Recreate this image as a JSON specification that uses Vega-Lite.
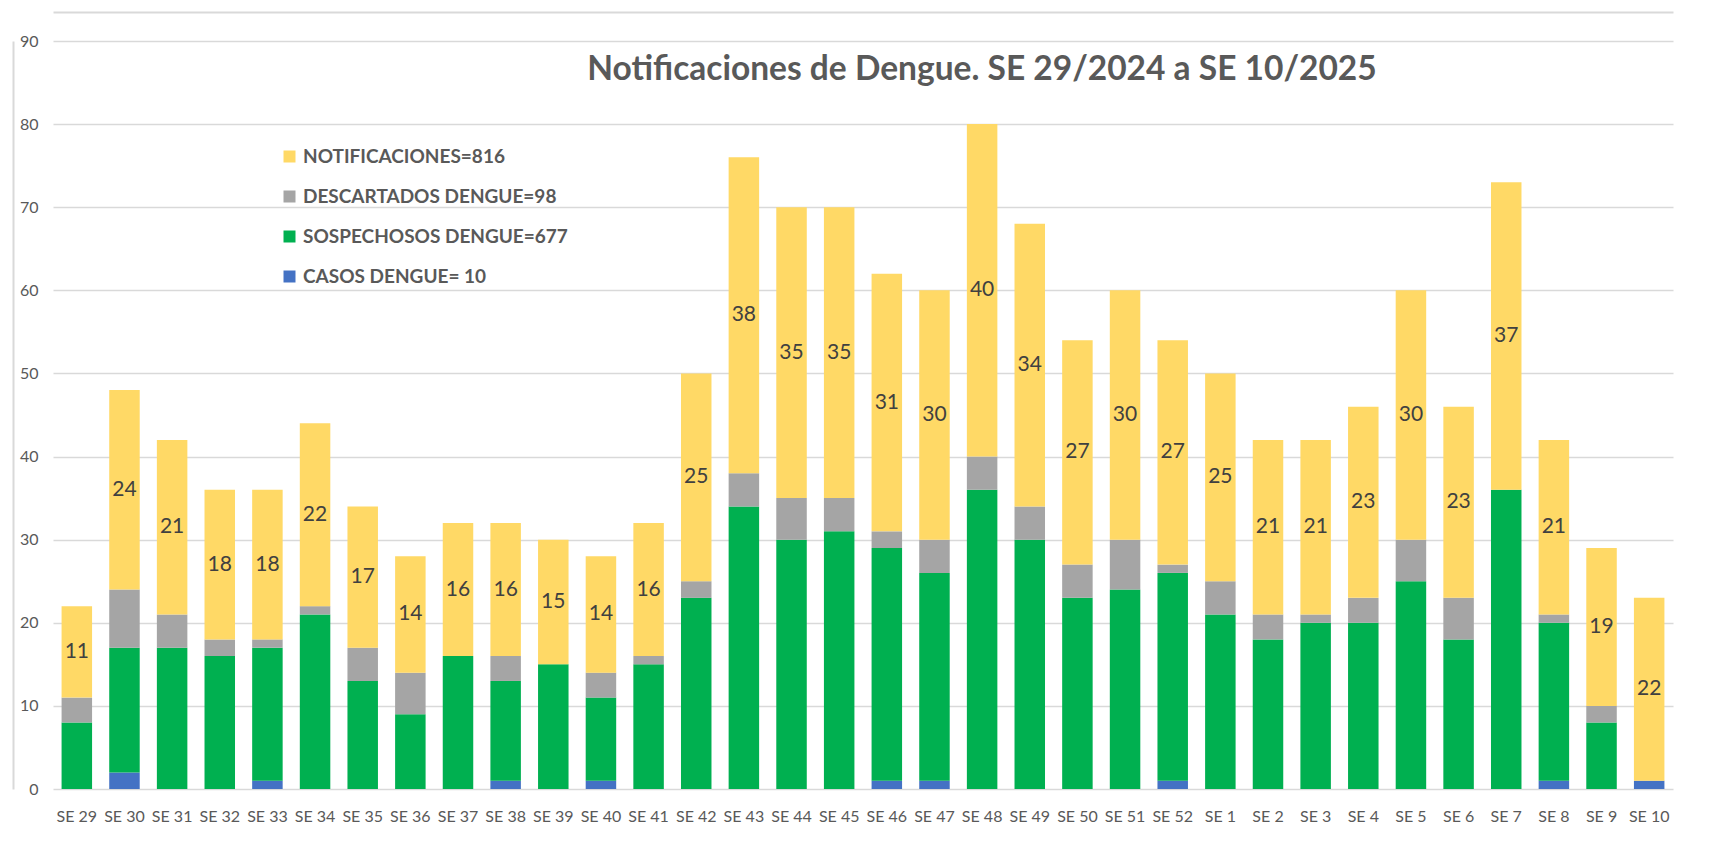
{
  "$schema": "https://vega.github.io/schema/vega-lite/v6.json",
  "width": 1620,
  "height": 748,
  "autosize": {"type": "none"},
  "padding": {"left": 53, "top": 41, "right": 56, "bottom": 63},
  "background": "white",
  "title": {
    "text": "Notificaciones de Dengue. SE 29/2024 a SE 10/2025",
    "frame": "group",
    "anchor": "middle",
    "dx": 119,
    "offset": -101,
    "baseline": "alphabetic",
    "font": "Lato",
    "fontSize": 33.5,
    "fontWeight": "bold",
    "color": "#595959"
  },
  "datasets": {
    "semanas": [
      {"se": "SE 29", "casos": 0, "sospechosos": 8, "descartados": 3, "notificaciones": 11},
      {"se": "SE 30", "casos": 2, "sospechosos": 15, "descartados": 7, "notificaciones": 24},
      {"se": "SE 31", "casos": 0, "sospechosos": 17, "descartados": 4, "notificaciones": 21},
      {"se": "SE 32", "casos": 0, "sospechosos": 16, "descartados": 2, "notificaciones": 18},
      {"se": "SE 33", "casos": 1, "sospechosos": 16, "descartados": 1, "notificaciones": 18},
      {"se": "SE 34", "casos": 0, "sospechosos": 21, "descartados": 1, "notificaciones": 22},
      {"se": "SE 35", "casos": 0, "sospechosos": 13, "descartados": 4, "notificaciones": 17},
      {"se": "SE 36", "casos": 0, "sospechosos": 9, "descartados": 5, "notificaciones": 14},
      {"se": "SE 37", "casos": 0, "sospechosos": 16, "descartados": 0, "notificaciones": 16},
      {"se": "SE 38", "casos": 1, "sospechosos": 12, "descartados": 3, "notificaciones": 16},
      {"se": "SE 39", "casos": 0, "sospechosos": 15, "descartados": 0, "notificaciones": 15},
      {"se": "SE 40", "casos": 1, "sospechosos": 10, "descartados": 3, "notificaciones": 14},
      {"se": "SE 41", "casos": 0, "sospechosos": 15, "descartados": 1, "notificaciones": 16},
      {"se": "SE 42", "casos": 0, "sospechosos": 23, "descartados": 2, "notificaciones": 25},
      {"se": "SE 43", "casos": 0, "sospechosos": 34, "descartados": 4, "notificaciones": 38},
      {"se": "SE 44", "casos": 0, "sospechosos": 30, "descartados": 5, "notificaciones": 35},
      {"se": "SE 45", "casos": 0, "sospechosos": 31, "descartados": 4, "notificaciones": 35},
      {"se": "SE 46", "casos": 1, "sospechosos": 28, "descartados": 2, "notificaciones": 31},
      {"se": "SE 47", "casos": 1, "sospechosos": 25, "descartados": 4, "notificaciones": 30},
      {"se": "SE 48", "casos": 0, "sospechosos": 36, "descartados": 4, "notificaciones": 40},
      {"se": "SE 49", "casos": 0, "sospechosos": 30, "descartados": 4, "notificaciones": 34},
      {"se": "SE 50", "casos": 0, "sospechosos": 23, "descartados": 4, "notificaciones": 27},
      {"se": "SE 51", "casos": 0, "sospechosos": 24, "descartados": 6, "notificaciones": 30},
      {"se": "SE 52", "casos": 1, "sospechosos": 25, "descartados": 1, "notificaciones": 27},
      {"se": "SE 1", "casos": 0, "sospechosos": 21, "descartados": 4, "notificaciones": 25},
      {"se": "SE 2", "casos": 0, "sospechosos": 18, "descartados": 3, "notificaciones": 21},
      {"se": "SE 3", "casos": 0, "sospechosos": 20, "descartados": 1, "notificaciones": 21},
      {"se": "SE 4", "casos": 0, "sospechosos": 20, "descartados": 3, "notificaciones": 23},
      {"se": "SE 5", "casos": 0, "sospechosos": 25, "descartados": 5, "notificaciones": 30},
      {"se": "SE 6", "casos": 0, "sospechosos": 18, "descartados": 5, "notificaciones": 23},
      {"se": "SE 7", "casos": 0, "sospechosos": 36, "descartados": 0, "notificaciones": 37},
      {"se": "SE 8", "casos": 1, "sospechosos": 19, "descartados": 1, "notificaciones": 21},
      {"se": "SE 9", "casos": 0, "sospechosos": 8, "descartados": 2, "notificaciones": 19},
      {"se": "SE 10", "casos": 1, "sospechosos": 0, "descartados": 0, "notificaciones": 22}
    ],
    "series": [
      {"serie": "casos", "etiqueta": "CASOS DENGUE= 10", "orden": 1},
      {"serie": "sospechosos", "etiqueta": "SOSPECHOSOS DENGUE=677", "orden": 2},
      {"serie": "descartados", "etiqueta": "DESCARTADOS DENGUE=98", "orden": 3},
      {"serie": "notificaciones", "etiqueta": "NOTIFICACIONES=816", "orden": 4}
    ]
  },
  "data": {"name": "semanas"},
  "transform": [
    {"fold": ["casos", "sospechosos", "descartados", "notificaciones"], "as": ["serie", "valor"]},
    {"lookup": "serie", "from": {"data": {"name": "series"}, "key": "serie", "fields": ["etiqueta", "orden"]}}
  ],
  "layer": [
    {
      "mark": {"type": "bar"},
      "encoding": {
        "x": {
          "field": "se",
          "type": "nominal",
          "sort": null,
          "scale": {"paddingInner": 0.36, "paddingOuter": 0.18},
          "axis": {
            "title": null,
            "labelAngle": 0,
            "domain": false,
            "ticks": false,
            "labelPadding": 19,
            "labelFont": "Lato",
            "labelFontSize": 16,
            "labelColor": "#595959"
          }
        },
        "y": {
          "field": "valor",
          "type": "quantitative",
          "stack": "zero",
          "scale": {"domain": [0, 90], "nice": false},
          "axis": {
            "title": null,
            "values": [0, 10, 20, 30, 40, 50, 60, 70, 80, 90],
            "grid": true,
            "gridColor": "#D9D9D9",
            "gridWidth": 1.5,
            "domain": false,
            "ticks": false,
            "labelPadding": 15,
            "labelFont": "Lato",
            "labelFontSize": 16,
            "labelColor": "#595959"
          }
        },
        "color": {
          "field": "etiqueta",
          "type": "nominal",
          "scale": {
            "domain": ["NOTIFICACIONES=816", "DESCARTADOS DENGUE=98", "SOSPECHOSOS DENGUE=677", "CASOS DENGUE= 10"],
            "range": ["#FFD966", "#A5A5A5", "#00B050", "#4472C4"]
          },
          "legend": {
            "title": null,
            "orient": "none",
            "legendX": 227,
            "legendY": 106,
            "direction": "vertical",
            "padding": 0,
            "symbolType": "square",
            "symbolSize": 144,
            "symbolStrokeWidth": 0,
            "labelFont": "Lato",
            "labelFontSize": 19,
            "labelFontWeight": "bold",
            "labelColor": "#595959",
            "labelOffset": 4,
            "labelLimit": 400,
            "rowPadding": 20
          }
        },
        "order": {"field": "orden", "type": "quantitative", "sort": "ascending"}
      }
    },
    {
      "transform": [
        {"stack": "valor", "groupby": ["se"], "sort": [{"field": "orden", "order": "ascending"}], "as": ["y0", "y1"]},
        {"filter": "datum.orden == 4"},
        {"calculate": "(datum.y0 + datum.y1) / 2", "as": "ymid"}
      ],
      "mark": {"type": "text", "font": "Lato", "fontSize": 21, "color": "#404040"},
      "encoding": {
        "x": {
          "field": "se",
          "type": "nominal",
          "sort": null,
          "axis": {
            "orient": "top",
            "offset": 29,
            "title": null,
            "labels": false,
            "ticks": false,
            "grid": false,
            "domain": true,
            "domainColor": "#D9D9D9",
            "domainWidth": 2
          }
        },
        "y": {
          "field": "ymid",
          "type": "quantitative",
          "axis": {
            "orient": "left",
            "offset": 40,
            "title": null,
            "labels": false,
            "ticks": false,
            "grid": false,
            "domain": true,
            "domainColor": "#D9D9D9",
            "domainWidth": 2
          }
        },
        "text": {"field": "valor", "type": "quantitative"}
      }
    }
  ],
  "resolve": {"axis": {"x": "independent", "y": "independent"}},
  "config": {
    "view": {"stroke": null}
  }
}
